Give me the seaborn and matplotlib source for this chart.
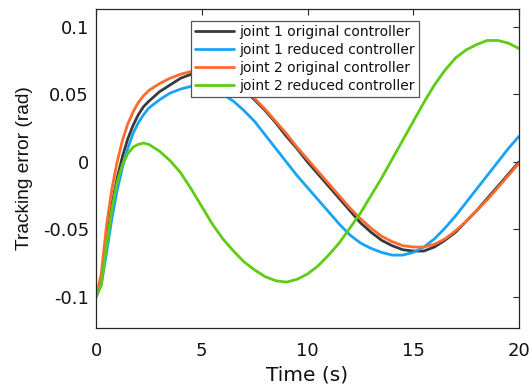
import numpy as np
import pandas as pd
import matplotlib
matplotlib.use("Agg")
import matplotlib.pyplot as plt
import seaborn as sns

# ---- data ----
time_s = [0, 0.25, 0.5, 0.75, 1.0, 1.25, 1.5, 1.75, 2.0, 2.25, 2.5,
          3.0, 3.5, 4.0, 4.5, 5.0, 5.5, 6.0, 6.5, 7.0, 7.5, 8.0, 8.5, 9.0,
          9.5, 10.0, 10.5, 11.0, 11.5, 12.0, 12.5, 13.0, 13.5, 14.0, 14.5,
          15.0, 15.5, 16.0, 16.5, 17.0, 17.5, 18.0, 18.5, 19.0, 19.5, 20.0]

j1_original = [-0.100, -0.087, -0.057, -0.032, -0.012, 0.004, 0.017, 0.027, 0.035, 0.041, 0.045,
               0.052, 0.057, 0.062, 0.065, 0.066, 0.065, 0.062, 0.058, 0.053, 0.046,
               0.038, 0.029, 0.019, 0.010, 0.000, -0.009, -0.018, -0.027, -0.036, -0.045,
               -0.052, -0.058, -0.062, -0.065, -0.066, -0.066, -0.063, -0.058, -0.052, -0.044,
               -0.036, -0.027, -0.018, -0.009, 0.000]

j1_reduced = [-0.100, -0.091, -0.067, -0.042, -0.021, -0.004, 0.010, 0.021, 0.029, 0.035, 0.040,
              0.046, 0.051, 0.054, 0.056, 0.056, 0.054, 0.050, 0.045, 0.038, 0.030,
              0.020, 0.010, 0.000, -0.010, -0.019, -0.028, -0.037, -0.046, -0.054, -0.060,
              -0.064, -0.067, -0.069, -0.069, -0.067, -0.063, -0.057, -0.049, -0.040, -0.030,
              -0.020, -0.010, 0.000, 0.010, 0.019]

j2_original = [-0.100, -0.083, -0.047, -0.020, 0.000, 0.016, 0.028, 0.037, 0.044, 0.049, 0.053,
               0.058, 0.062, 0.065, 0.067, 0.067, 0.066, 0.063, 0.059, 0.054, 0.047,
               0.039, 0.030, 0.021, 0.011, 0.002, -0.007, -0.016, -0.025, -0.034, -0.042,
               -0.049, -0.055, -0.059, -0.062, -0.063, -0.063, -0.061, -0.057, -0.051, -0.044,
               -0.036, -0.028, -0.019, -0.010, -0.001]

j2_reduced = [-0.100, -0.091, -0.062, -0.035, -0.015, -0.002, 0.006, 0.011, 0.013, 0.014, 0.013,
              0.008, 0.001, -0.008, -0.020, -0.033, -0.046, -0.057, -0.066, -0.074, -0.080,
              -0.085, -0.088, -0.089, -0.087, -0.083, -0.077, -0.069, -0.060, -0.049, -0.038,
              -0.025, -0.012, 0.002, 0.016, 0.030, 0.044, 0.057, 0.068, 0.077, 0.083,
              0.087, 0.090, 0.090, 0.088, 0.084]

labels = ["joint 1 original controller", "joint 1 reduced controller",
          "joint 2 original controller", "joint 2 reduced controller"]
colors = ["#3a3a3a", "#1aa3f5", "#ff6a2e", "#5fcc14"]

x_ticks = [0, 5, 10, 15, 20]
y_ticks = [-0.1, -0.05, 0, 0.05, 0.1]
y_tick_labels = ["-0.1", "-0.05", "0", "0.05", "0.1"]

# ---- long table for seaborn ----
frames = []
for lab, vals in zip(labels, [j1_original, j1_reduced, j2_original, j2_reduced]):
    frames.append(pd.DataFrame({"t": time_s, "v": vals, "series": lab}))
df = pd.concat(frames, ignore_index=True)

sns.set_style("white")
plt.rcParams["font.family"] = ["DejaVu Sans"]

fig = plt.figure(figsize=(5.31, 3.87), dpi=100)
ax = fig.add_axes([96 / 531, 1 - 328 / 387, 423 / 531, 319 / 387])

sns.lineplot(data=df, x="t", y="v", hue="series", hue_order=labels,
             palette=dict(zip(labels, colors)), linewidth=2.0, ax=ax,
             legend=False, sort=False)

ax.set_xlim(0, 20)
ax.set_ylim(-0.123, 0.1133)
ax.set_xticks(x_ticks)
ax.set_xticklabels([str(v) for v in x_ticks])
ax.set_yticks(y_ticks)
ax.set_yticklabels(y_tick_labels)

ax.tick_params(axis="both", which="both", direction="in", length=4, width=0.8,
               colors="#262626", labelsize=13, top=True, right=True,
               labeltop=False, labelright=False)
ax.tick_params(axis="x", pad=10)
ax.tick_params(axis="y", pad=5)
for lab in ax.get_xticklabels() + ax.get_yticklabels():
    lab.set_color("#111111")

for sp in ax.spines.values():
    sp.set_visible(True)
    sp.set_color("#262626")
    sp.set_linewidth(0.9)

ax.set_xlabel("Time (s)", fontsize=14.5, color="#111111", labelpad=4)
ax.set_ylabel("Tracking error (rad)", fontsize=13.8, color="#111111", labelpad=7,
              family=["Liberation Sans", "DejaVu Sans"])

handles = [plt.Line2D([], [], color=c, linewidth=2.0) for c in colors]
leg = ax.legend(handles, labels, loc="upper left",
                bbox_to_anchor=(0.2246, 0.962), borderaxespad=0,
                fontsize=10, frameon=True, fancybox=False,
                handlelength=2.8, handletextpad=0.36, labelspacing=0.28,
                borderpad=0.3)
leg.get_frame().set_edgecolor("#555555")
leg.get_frame().set_linewidth(0.9)
leg.get_frame().set_alpha(1)
for t in leg.get_texts():
    t.set_color("#111111")

fig.savefig("out.png", dpi=100)
